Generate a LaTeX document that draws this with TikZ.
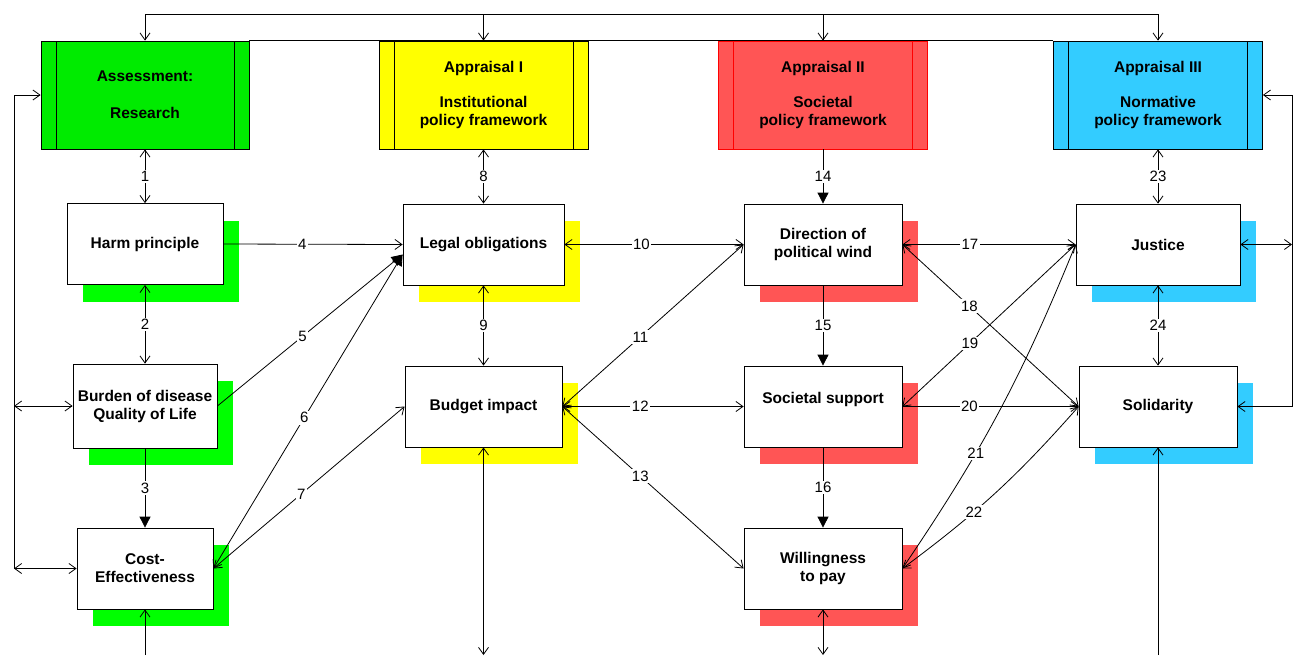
\documentclass[tikz,border=0pt]{standalone}
\usepackage{fontspec}
\setmainfont{Liberation Sans}
\usetikzlibrary{arrows.meta, positioning, shadows, calc}

\definecolor{assessgreen}{RGB}{0,235,0}
\definecolor{shadegreen}{RGB}{0,255,0}
\definecolor{apyellow}{RGB}{255,255,0}
\definecolor{apred}{RGB}{255,85,85}
\definecolor{apblue}{RGB}{51,204,255}

\begin{document}
\begin{tikzpicture}[
    x=1pt, y=-1pt,
    >={Straight Barb[length=7pt,width=10pt]},
    header/.style 2 args={rectangle, draw=#2, fill=#1, line width=0.8pt, minimum width=209pt, minimum height=108pt, align=center, inner sep=0pt,
        font=\bfseries\fontsize{15.5}{18}\selectfont,
        path picture={
            \draw[#2, line width=0.8pt] ([xshift=15pt]path picture bounding box.north west) -- ([xshift=15pt]path picture bounding box.south west);
            \draw[#2, line width=0.8pt] ([xshift=-15pt]path picture bounding box.north east) -- ([xshift=-15pt]path picture bounding box.south east);}},
    card/.style={rectangle, draw=black, fill=white, line width=0.8pt, minimum height=81pt, align=center, inner sep=0pt,
        font=\bfseries\fontsize{15.5}{18}\selectfont,
        general shadow={fill=#1, draw=none, shadow xshift=16pt, shadow yshift=-17pt}},
    num/.style={fill=white, inner sep=1.5pt, font=\fontsize{15}{17}\selectfont},
    line/.style={line width=0.8pt},
    both/.style={line, <->},
    one/.style={line, ->},
    solid tip/.style={line, -{Triangle[length=11pt,width=11pt]}},
    mixed tip/.style={line, <-{Triangle[length=11pt,width=11pt]}}
]
\useasboundingbox (0,0) rectangle (1298,656);

% Assessment and appraisal headers
\node (assess) [header={assessgreen}{black}, minimum width=208pt] at (145,95) {Assessment:\\[19pt]Research};
\node (app1) [header={apyellow}{black}] at (483.5,95) {Appraisal I\\[17pt]Institutional\\policy framework};
\node (app2) [header={apred}{red}] at (823,95) {Appraisal II\\[17pt]Societal\\policy framework};
\node (app3) [header={apblue}{black}] at (1158,95) {Appraisal III\\[17pt]Normative\\policy framework};

% Criteria
\node (harm) [card=shadegreen, minimum width=156pt] at (145,244) {Harm principle};
\node (burden) [card=shadegreen, minimum width=144pt, minimum height=84pt] at (145,406) {Burden of disease\\Quality of Life};
\node (cost) [card=shadegreen, minimum width=136pt] at (145,568.5) {Cost-\\Effectiveness};
\node (legal) [card=apyellow, minimum width=161pt] at (483.5,244.5) {Legal obligations};
\node (budget) [card=apyellow, minimum width=157pt] at (483.5,406.5) {Budget impact};
\node (wind) [card=apred, minimum width=158pt] at (823,244.5) {Direction of\\political wind};
\node (support) [card=apred, minimum width=158pt] at (823,406.5) {Societal support\\\mbox{}};
\node (wtp) [card=apred, minimum width=158pt] at (823,568.5) {Willingness\\to pay};
\node (justice) [card=apblue, minimum width=164pt] at (1158,244.5) {Justice};
\node (solidarity) [card=apblue, minimum width=158pt] at (1158,406.5) {Solidarity};

% Helper coordinates
\coordinate (busy) at (0,14);
\coordinate (lx) at (14,0);
\coordinate (rx) at (1292,0);
\coordinate (boty) at (0,655);

% Top bus
\draw[line] (assess.north |- busy) -- (app3.north |- busy);
\foreach \n in {assess,app1,app2,app3}
  \draw[one] (\n.north |- busy) -- (\n.north);
\draw[line] (assess.north east) -- (app3.north west);

% Left and right loops
\draw[line, <-] (assess.west) -| (lx |- cost.west);
\draw[both] (lx |- burden.west) -- (burden.west);
\draw[both] (lx |- cost.west) -- (cost.west);
\draw[both] (app3.east) -| (rx |- solidarity.east) -- (solidarity.east);
\draw[both] (justice.east) -- (justice.east -| rx);

% Open ends at the bottom
\draw[one] (cost.south |- boty) -- (cost.south);
\draw[both] (budget.south) -- (budget.south |- boty);
\draw[both] (wtp.south) -- (wtp.south |- boty);
\draw[one] (solidarity.south |- boty) -- (solidarity.south);

% Assessment column
\draw[both] (assess) -- node[num]{1} (harm);
\draw[both] (harm) -- node[num]{2} (burden);
\draw[solid tip] (burden) -- node[num]{3} (cost);
\draw[one] (harm.east) -- node[num, pos=0.44]{4} (legal.west);
\draw[solid tip] (burden.east) -- node[num, pos=0.46]{5} ([yshift=-10pt]legal.west);
\draw[mixed tip] (cost.east) -- node[num, pos=0.48]{6} ([yshift=-10pt]legal.west);
\draw[both] (cost.east) -- node[num, pos=0.46]{7} (budget.west);

% Appraisal I column
\draw[both] (app1) -- node[num]{8} (legal);
\draw[both] (legal) -- node[num]{9} (budget);
\draw[both] (legal.east) -- node[num, pos=0.43]{10} (wind.west);
\draw[both] (budget.east) -- node[num, pos=0.43]{11} (wind.west);
\draw[both] (budget.east) -- node[num, pos=0.43]{12} (support.west);
\draw[both] (budget.east) -- node[num, pos=0.43]{13} (wtp.west);

% Appraisal II column
\draw[solid tip] (app2) -- node[num]{14} (wind);
\draw[solid tip] (wind) -- node[num]{15} (support);
\draw[solid tip] (support) -- node[num]{16} (wtp);
\draw[both] (wind.east) -- node[num, pos=0.39]{17} (justice.west);
\draw[both] (wind.east) -- node[num, pos=0.38]{18} (solidarity.west);
\draw[both] (support.east) -- node[num, pos=0.39]{19} (justice.west);
\draw[one] (support.east) -- node[num, pos=0.38]{20} (solidarity.west);
\draw[both] (wtp.east) to[bend right=6] node[num, pos=0.36]{21} (justice.west);
\draw[both] (wtp.east) to[bend right=6] node[num, pos=0.37]{22} (solidarity.west);

% Appraisal III column
\draw[both] (app3) -- node[num]{23} (justice);
\draw[both] (justice) -- node[num]{24} (solidarity);

\end{tikzpicture}
\end{document}
